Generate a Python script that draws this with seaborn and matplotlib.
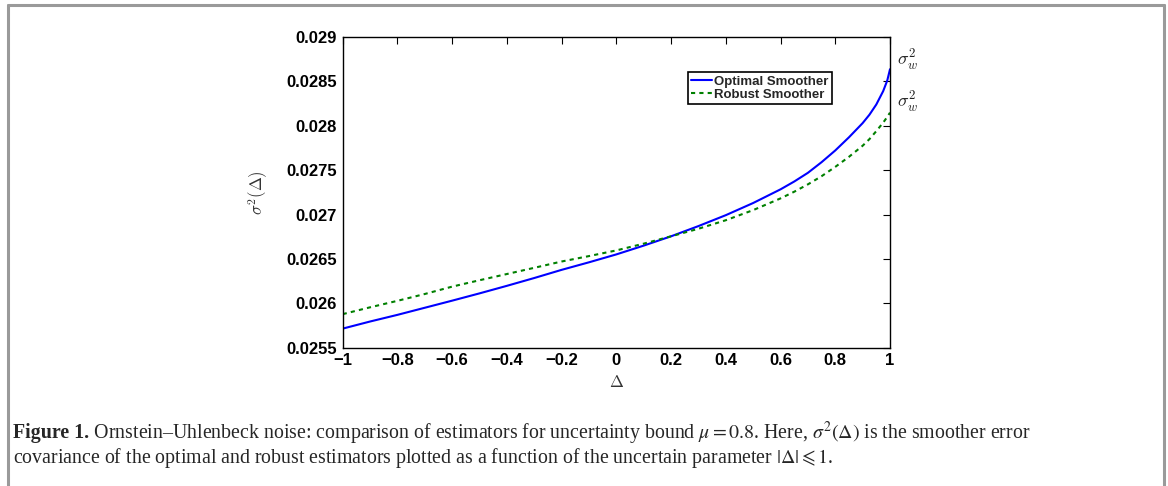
import matplotlib
matplotlib.use("Agg")
import matplotlib.pyplot as plt
from matplotlib.lines import Line2D
import seaborn as sns
import pandas as pd

# ---- data ----
delta = [-1.0, -0.9, -0.8, -0.7, -0.6, -0.5, -0.4, -0.3, -0.2, -0.1, 0.0,
         0.1, 0.2, 0.3, 0.4, 0.5, 0.6, 0.65, 0.7, 0.75, 0.8, 0.85, 0.9, 0.925,
         0.95, 0.975, 0.99, 1.0]
optimal = [0.025715, 0.025795, 0.025870, 0.025950, 0.026030, 0.026112, 0.026197,
           0.026285, 0.026377, 0.026462, 0.026551, 0.026650, 0.026755, 0.026870,
           0.026993, 0.027130, 0.027284, 0.027372, 0.027470, 0.027590, 0.027722,
           0.027870, 0.028030, 0.028125, 0.028240, 0.028390, 0.028510, 0.028637]
robust = [0.025878, 0.025955, 0.026028, 0.026105, 0.026188, 0.026260, 0.026330,
          0.026400, 0.026471, 0.026532, 0.026596, 0.026672, 0.026755, 0.026840,
          0.026936, 0.027050, 0.027182, 0.027257, 0.027340, 0.027432, 0.027537,
          0.027650, 0.027775, 0.027850, 0.027940, 0.028035, 0.028100, 0.028148]
series_names = ["Optimal Smoother", "Robust Smoother"]
xticks = [-1, -0.8, -0.6, -0.4, -0.2, 0, 0.2, 0.4, 0.6, 0.8, 1]
xtick_labels = ["\u22121", "\u22120.8", "\u22120.6", "\u22120.4", "\u22120.2", "0",
                "0.2", "0.4", "0.6", "0.8", "1"]
yticks = [0.0255, 0.026, 0.0265, 0.027, 0.0275, 0.028, 0.0285, 0.029]
ytick_labels = ["0.0255", "0.026", "0.0265", "0.027", "0.0275", "0.028", "0.0285", "0.029"]
caption_bold = "Figure 1."
caption_line1 = (" Ornstein\u2013Uhlenbeck noise: comparison of estimators for uncertainty bound "
                 "$\\mu = 0.8$. Here, $\\sigma^2(\\Delta)$ is the smoother error")
caption_line2 = ("covariance of the optimal and robust estimators plotted as a function of the "
                 "uncertain parameter $|\\Delta| \\leqslant 1$.")

df = pd.DataFrame({
    "delta": delta * 2,
    "value": optimal + robust,
    "series": [series_names[0]] * len(delta) + [series_names[1]] * len(delta),
})

sns.set_style("white")
plt.rcParams["font.family"] = ["Liberation Sans", "DejaVu Sans"]

W, H = 1168, 486
fig = plt.figure(figsize=(W / 100, H / 100), dpi=100)
ax = fig.add_axes([342.7 / W, 1 - 347.7 / H, (890 - 342.7) / W, (347.7 - 37) / H])

sns.lineplot(data=df, x="delta", y="value", hue="series", style="series",
             palette={series_names[0]: "#0000ff", series_names[1]: "#008000"},
             dashes={series_names[0]: "", series_names[1]: (2, 2)},
             linewidth=1.5, ax=ax, legend=False)

ax.set_xlim(-1, 1)
ax.set_ylim(0.0255, 0.029)
ax.set_xticks(xticks)
ax.set_xticklabels(xtick_labels, fontsize=12, fontweight="bold")
ax.set_yticks(yticks)
ax.set_yticklabels(ytick_labels, fontsize=12, fontweight="bold")
ax.tick_params(direction="in", length=5, width=0.8, top=True, right=True, pad=4,
               colors="black")
for s in ax.spines.values():
    s.set_visible(True)
    s.set_color("black")
    s.set_linewidth(1.0)

ax.set_xlabel("$\\Delta$", fontsize=12, color="#333333", labelpad=4,
              math_fontfamily="cm")
ax.set_ylabel("$\\sigma^2(\\Delta)$", fontsize=12, color="#333333", labelpad=12,
              math_fontfamily="cm")

# right-side annotations
ax.annotate("$\\sigma_w^2$", xy=(1, optimal[-1]), xytext=(5, 6), textcoords="offset points",
            fontsize=13, va="center", ha="left", math_fontfamily="cm",
            annotation_clip=False, color="#222222")
ax.annotate("$\\sigma_w^2$", xy=(1, robust[-1]), xytext=(5, 7), textcoords="offset points",
            fontsize=13, va="center", ha="left", math_fontfamily="cm",
            annotation_clip=False, color="#222222")

handles = [Line2D([], [], color="#0000ff", lw=1.5),
           Line2D([], [], color="#008000", lw=1.5, dashes=(2, 2))]
leg = ax.legend(handles, series_names, loc="upper right",
                bbox_to_anchor=((832 - 342.7) / (890 - 342.7), 1 - (72 - 37) / (347.7 - 37)),
                prop={"weight": "bold", "size": 9.5}, handlelength=1.6, handletextpad=0.15,
                borderpad=0.25, labelspacing=0.1, borderaxespad=0, fancybox=False,
                frameon=True, framealpha=1)
leg.get_frame().set_edgecolor("black")
leg.get_frame().set_linewidth(1.2)

# grey page frame
fig.add_artist(Line2D([8 / W, 8 / W], [0, 1 - 5 / H], color="#9a9a9a", lw=2.2,
                      transform=fig.transFigure))
fig.add_artist(Line2D([8 / W, 1164 / W], [1 - 5 / H, 1 - 5 / H], color="#9a9a9a", lw=2.2,
                      transform=fig.transFigure))
fig.add_artist(Line2D([1164 / W, 1164 / W], [0, 1 - 5 / H], color="#9a9a9a", lw=2.2,
                      transform=fig.transFigure))

# caption
cap_fs = 14.3
cap_x = 13 / W
y1 = 1 - 433 / H
y2 = 1 - 458 / H
tb = fig.text(cap_x, y1, caption_bold, fontsize=cap_fs, fontweight="bold",
              family=["Liberation Serif", "DejaVu Serif"], va="center", ha="left",
              math_fontfamily="stix")
fig.canvas.draw()
bb = tb.get_window_extent()
fig.text(bb.x1 / W, y1, caption_line1, fontsize=cap_fs,
         family=["Liberation Serif", "DejaVu Serif"], va="center", ha="left",
         math_fontfamily="stix")
fig.text(cap_x, y2, caption_line2, fontsize=cap_fs,
         family=["Liberation Serif", "DejaVu Serif"], va="center", ha="left",
         math_fontfamily="stix")

fig.savefig("out.png", dpi=100)
